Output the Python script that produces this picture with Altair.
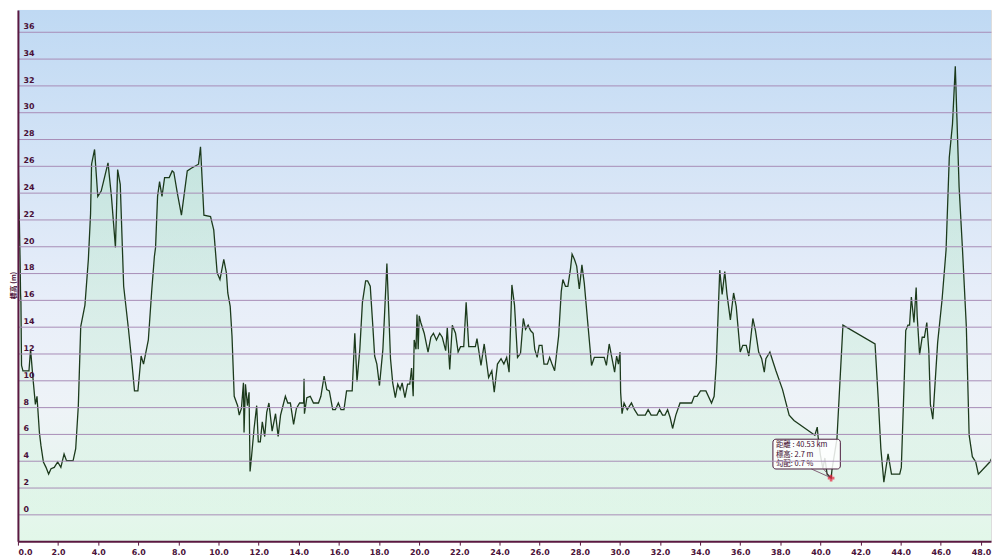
import altair as alt
import pandas as pd

# ---- data (distance km, elevation m) ----
km = [0.00, 0.11, 0.13, 0.15, 0.18, 0.25, 0.55, 0.63, 0.74, 0.87, 0.95, 1.07, 1.15, 1.27, 1.40, 1.53, 1.65, 1.81, 1.98, 2.14,
      2.30, 2.42, 2.75, 2.88, 3.01, 3.13, 3.34, 3.51, 3.62, 3.67, 3.82, 3.98, 4.15, 4.28, 4.49, 4.66, 4.86, 4.97, 5.10, 5.27,
      5.51, 5.68, 5.81, 5.98, 6.14, 6.26, 6.50, 6.67, 6.80, 6.86, 6.96, 7.06, 7.18, 7.31, 7.54, 7.69, 7.77, 7.95, 8.15, 8.44,
      8.64, 9.00, 9.10, 9.27, 9.60, 9.76, 9.93, 10.07, 10.26, 10.39, 10.46, 10.58, 10.67, 10.78, 10.95, 11.03, 11.14, 11.24, 11.27, 11.34,
      11.44, 11.52, 11.57, 11.65, 11.77, 11.90, 11.98, 12.08, 12.18, 12.30, 12.40, 12.51, 12.67, 12.84, 12.97, 13.09, 13.33, 13.45, 13.58, 13.74,
      13.88, 14.04, 14.24, 14.26, 14.28, 14.40, 14.57, 14.73, 14.98, 15.10, 15.26, 15.39, 15.52, 15.69, 15.82, 15.97, 16.10, 16.25, 16.38, 16.66,
      16.79, 16.90, 17.04, 17.17, 17.33, 17.43, 17.56, 17.69, 17.78, 17.89, 18.02, 18.19, 18.27, 18.39, 18.49, 18.57, 18.68, 18.81, 18.93, 19.05,
      19.15, 19.29, 19.42, 19.53, 19.62, 19.70, 19.75, 19.84, 19.89, 19.95, 20.00, 20.08, 20.25, 20.44, 20.58, 20.71, 20.86, 21.02, 21.15, 21.32,
      21.40, 21.52, 21.65, 21.81, 21.94, 22.06, 22.22, 22.34, 22.47, 22.80, 22.88, 23.08, 23.24, 23.46, 23.62, 23.74, 23.90, 24.08, 24.22, 24.36,
      24.48, 24.62, 24.75, 24.90, 25.05, 25.19, 25.30, 25.43, 25.55, 25.68, 25.76, 25.88, 25.98, 26.12, 26.22, 26.39, 26.50, 26.62, 26.75, 26.95,
      27.08, 27.16, 27.29, 27.41, 27.54, 27.62, 27.74, 27.85, 27.98, 28.11, 28.23, 28.40, 28.59, 28.73, 29.22, 29.33, 29.47, 29.60, 29.74, 29.84,
      29.93, 30.01, 30.04, 30.11, 30.21, 30.37, 30.58, 30.73, 30.90, 31.27, 31.41, 31.56, 31.85, 31.98, 32.13, 32.25, 32.38, 32.51, 32.63, 32.79,
      33.00, 33.58, 33.71, 33.85, 34.02, 34.29, 34.57, 34.70, 34.81, 34.98, 35.10, 35.23, 35.34, 35.51, 35.67, 35.80, 36.00, 36.13, 36.30, 36.43,
      36.63, 36.76, 36.92, 37.07, 37.20, 37.28, 37.48, 37.65, 37.78, 38.11, 38.44, 38.68, 39.72, 39.84, 39.88, 40.00, 40.12, 40.22, 40.33, 40.53,
      40.58, 40.82, 41.12, 42.72, 42.88, 43.01, 43.16, 43.26, 43.37, 43.54, 43.95, 44.03, 44.17, 44.25, 44.36, 44.44, 44.53, 44.66, 44.77, 44.82,
      44.94, 45.07, 45.18, 45.30, 45.40, 45.48, 45.60, 45.84, 46.06, 46.26, 46.42, 46.58, 46.72, 46.80, 46.91, 47.08, 47.27, 47.41, 47.57, 47.74,
      47.87, 48.44, 48.64]
elev = [27.5, 18.8, 16.5, 15.8, 11.1, 10.7, 10.7, 12.3, 10.3, 8.2, 8.8, 6.1, 5.1, 3.9, 3.5, 3.0, 3.4, 3.5, 3.9, 3.5,
        4.5, 4.0, 4.0, 4.9, 8.1, 14.0, 15.6, 19.0, 22.4, 26.1, 27.2, 23.7, 24.1, 24.9, 26.2, 23.7, 19.9, 25.7, 24.6, 17.0,
        13.8, 11.3, 9.2, 9.2, 11.8, 11.2, 13.0, 16.7, 19.2, 19.9, 23.7, 24.8, 23.7, 25.1, 25.1, 25.6, 25.5, 23.9, 22.3, 25.6,
        25.8, 26.1, 27.4, 22.3, 22.2, 21.2, 18.0, 17.5, 19.0, 18.0, 16.5, 15.5, 13.3, 8.8, 8.1, 7.4, 7.9, 9.8, 6.1, 9.7,
        8.1, 9.1, 3.2, 4.4, 6.4, 8.1, 5.4, 5.4, 6.9, 5.8, 7.6, 8.3, 6.2, 7.5, 5.8, 7.4, 8.8, 8.3, 8.3, 6.7,
        7.9, 8.3, 8.3, 10.1, 7.5, 8.7, 8.8, 8.3, 8.3, 8.8, 10.3, 9.3, 9.2, 7.8, 7.8, 8.3, 7.8, 7.8, 9.2, 9.2,
        13.5, 9.9, 12.3, 15.8, 17.4, 17.4, 17.0, 14.0, 11.8, 11.2, 9.6, 12.3, 14.8, 18.7, 14.8, 11.6, 9.8, 8.7, 9.7, 9.3,
        9.8, 8.7, 9.7, 9.7, 10.9, 8.8, 13.0, 12.3, 14.9, 12.3, 14.8, 14.3, 13.5, 12.1, 13.2, 13.5, 13.0, 13.5, 13.2, 12.2,
        13.9, 10.8, 14.1, 13.5, 12.1, 12.5, 12.5, 15.8, 12.5, 12.5, 13.1, 11.1, 12.7, 10.2, 10.7, 9.1, 11.2, 11.6, 11.2, 11.7,
        10.6, 17.1, 15.6, 11.7, 12.0, 14.6, 13.8, 14.1, 13.7, 13.5, 12.3, 11.7, 12.6, 12.6, 11.2, 11.2, 11.7, 11.2, 10.7, 13.3,
        16.6, 17.5, 17.0, 17.0, 18.3, 19.4, 19.0, 18.5, 16.8, 18.6, 17.2, 14.3, 11.1, 11.7, 11.7, 11.1, 12.7, 11.7, 10.6, 11.8,
        11.2, 12.1, 9.1, 7.5, 8.3, 7.8, 8.3, 7.8, 7.4, 7.4, 7.8, 7.4, 7.4, 7.8, 7.4, 7.4, 7.8, 7.2, 6.4, 7.4,
        8.3, 8.3, 8.8, 8.8, 9.2, 9.2, 8.3, 8.8, 11.3, 18.2, 16.4, 18.1, 16.4, 14.5, 16.5, 15.5, 12.1, 12.6, 12.6, 11.8,
        14.6, 13.7, 12.1, 11.6, 10.6, 11.6, 12.1, 11.3, 10.7, 9.3, 7.4, 7.0, 5.9, 6.5, 5.8, 4.4, 3.4, 4.2, 3.0, 2.7,
        3.4, 5.6, 14.1, 12.7, 8.6, 4.9, 2.4, 3.4, 4.5, 3.0, 3.0, 3.5, 9.8, 13.7, 14.1, 14.1, 16.2, 14.3, 16.9, 14.8,
        11.9, 13.2, 13.2, 14.3, 12.2, 8.2, 7.1, 12.8, 16.0, 19.7, 26.6, 29.1, 33.4, 29.6, 24.4, 19.7, 14.0, 5.9, 4.3, 3.9,
        3.0, 3.9, 4.5]

x_ticks = [float(v) for v in range(0, 49, 2)]
y_ticks = list(range(0, 37, 2))

y_title = "標高 (m)"

# tooltip annotation
tip_km = 40.53
tip_elev = 2.7
tip_lines = ["距離  : 40.53 km", "標高: 2.7 m", "勾配: 0.7 %"]
tip_line_y = [5.13, 4.44, 3.75]
tip_text_x = [37.78, 37.78, 37.78]
tip_box_x = [37.63]
tip_box_x2 = [40.99]
tip_box_y = [5.6]
tip_box_y2 = [3.38]
tip_tail_x = [39.55, 40.53, 40.15]
tip_tail_y = [3.38, 2.72, 3.38]

W, H = 980, 535
X_DOMAIN = [0, 48.5]
Y_DOMAIN = [-2, 37.6]

df = pd.DataFrame({"km": km, "elev": elev})

xs = alt.Scale(domain=X_DOMAIN, nice=False, zero=False)
ys = alt.Scale(domain=Y_DOMAIN, nice=False, zero=False)

axis_color = "#5a1840"
label_color = "#4a1038"

x_axis = alt.Axis(
    values=x_ticks, format=".1f", title=None, grid=False, zindex=1, labelOverlap=False,
    domainColor=axis_color, domainWidth=2, tickColor=axis_color, tickSize=4, tickWidth=1,
    labelFont="DejaVu Sans", labelFontWeight="bold", labelFontSize=8, labelColor=label_color,
    labelPadding=3)
y_axis = alt.Axis(
    values=y_ticks, title=y_title, grid=True, gridColor="#a78cb6", gridWidth=1, zindex=1,
    labelOverlap=False,
    domainColor=axis_color, domainWidth=2, ticks=False, tickSize=0,
    labelAlign="left", labelBaseline="bottom", labelPadding=-5, labelOffset=-1,
    labelFont="DejaVu Sans", labelFontWeight="bold", labelFontSize=8, labelColor=label_color,
    titleFont="Noto Sans CJK JP", titleFontSize=7, titleFontWeight="bold", titleColor=label_color,
    titleX=-1, titleY=277, titleAngle=270, titleAlign="center", titleBaseline="bottom")


def X(f):
    return alt.X(f, scale=xs, axis=x_axis)


def Y(f):
    return alt.Y(f, scale=ys, axis=y_axis)


bg = alt.Chart(pd.DataFrame({"a": [0]})).mark_rect(
    fill=alt.Gradient(gradient="linear", x1=0, x2=0, y1=0, y2=1, stops=[
        alt.GradientStop(offset=0, color="#bfd9f3"),
        alt.GradientStop(offset=0.55, color="#e8eef9"),
        alt.GradientStop(offset=0.75, color="#eef3f7"),
        alt.GradientStop(offset=1, color="#e2f7e9"),
    ])
).encode(x=alt.value(0), x2=alt.value(W), y=alt.value(0), y2=alt.value(H))

area = alt.Chart(df).mark_area(
    clip=True,
    fill=alt.Gradient(gradient="linear", x1=0, x2=0, y1=0, y2=1, stops=[
        alt.GradientStop(offset=0, color="rgba(175,225,195,0.55)"),
        alt.GradientStop(offset=1, color="rgba(215,245,225,0.35)"),
    ])
).encode(x=X("km:Q"), y=Y("elev:Q"), y2=alt.value(H))

line = alt.Chart(df).mark_line(clip=True, color="#1c3a1c", strokeWidth=1.3).encode(
    x=X("km:Q"), y=Y("elev:Q"))

box_df = pd.DataFrame({"km": tip_box_x, "x2": tip_box_x2, "elev": tip_box_y, "y2": tip_box_y2})
box = alt.Chart(box_df).mark_rect(fill="white", fillOpacity=0.85, stroke="#4a1a3a",
                                  strokeWidth=1, cornerRadius=3).encode(
    x=X("km:Q"), x2="x2:Q", y=Y("elev:Q"), y2="y2:Q")

tail_df = pd.DataFrame({"km": tip_tail_x, "elev": tip_tail_y, "o": [0, 1, 2]})
tail = alt.Chart(tail_df).mark_line(color="#6a3a5a", strokeWidth=0.8).encode(
    x=X("km:Q"), y=Y("elev:Q"), order="o:Q")

txt_df = pd.DataFrame({"km": tip_text_x, "elev": tip_line_y, "t": tip_lines})
txt = alt.Chart(txt_df).mark_text(align="left", baseline="middle", font="Noto Sans CJK JP",
                                  fontSize=7.5, color="#3b0a2e").encode(
    x=X("km:Q"), y=Y("elev:Q"), text="t:N")

mk_df = pd.DataFrame({"km": [tip_km], "elev": [tip_elev]})
marker = alt.Chart(mk_df).mark_point(shape="cross", filled=True, color="#e8203a", size=45).encode(
    x=X("km:Q"), y=Y("elev:Q"))

chart = alt.layer(bg, area, line, box, tail, txt, marker).properties(
    width=W, height=H,
    autosize=alt.AutoSizeParams(type="none"),
    padding={"left": 10, "top": 0, "right": 1, "bottom": 14},
).configure_view(stroke="#cbb8d4", strokeWidth=1).configure(background="white")

chart.save("out.html", embed_options={"renderer": "svg", "actions": False})
